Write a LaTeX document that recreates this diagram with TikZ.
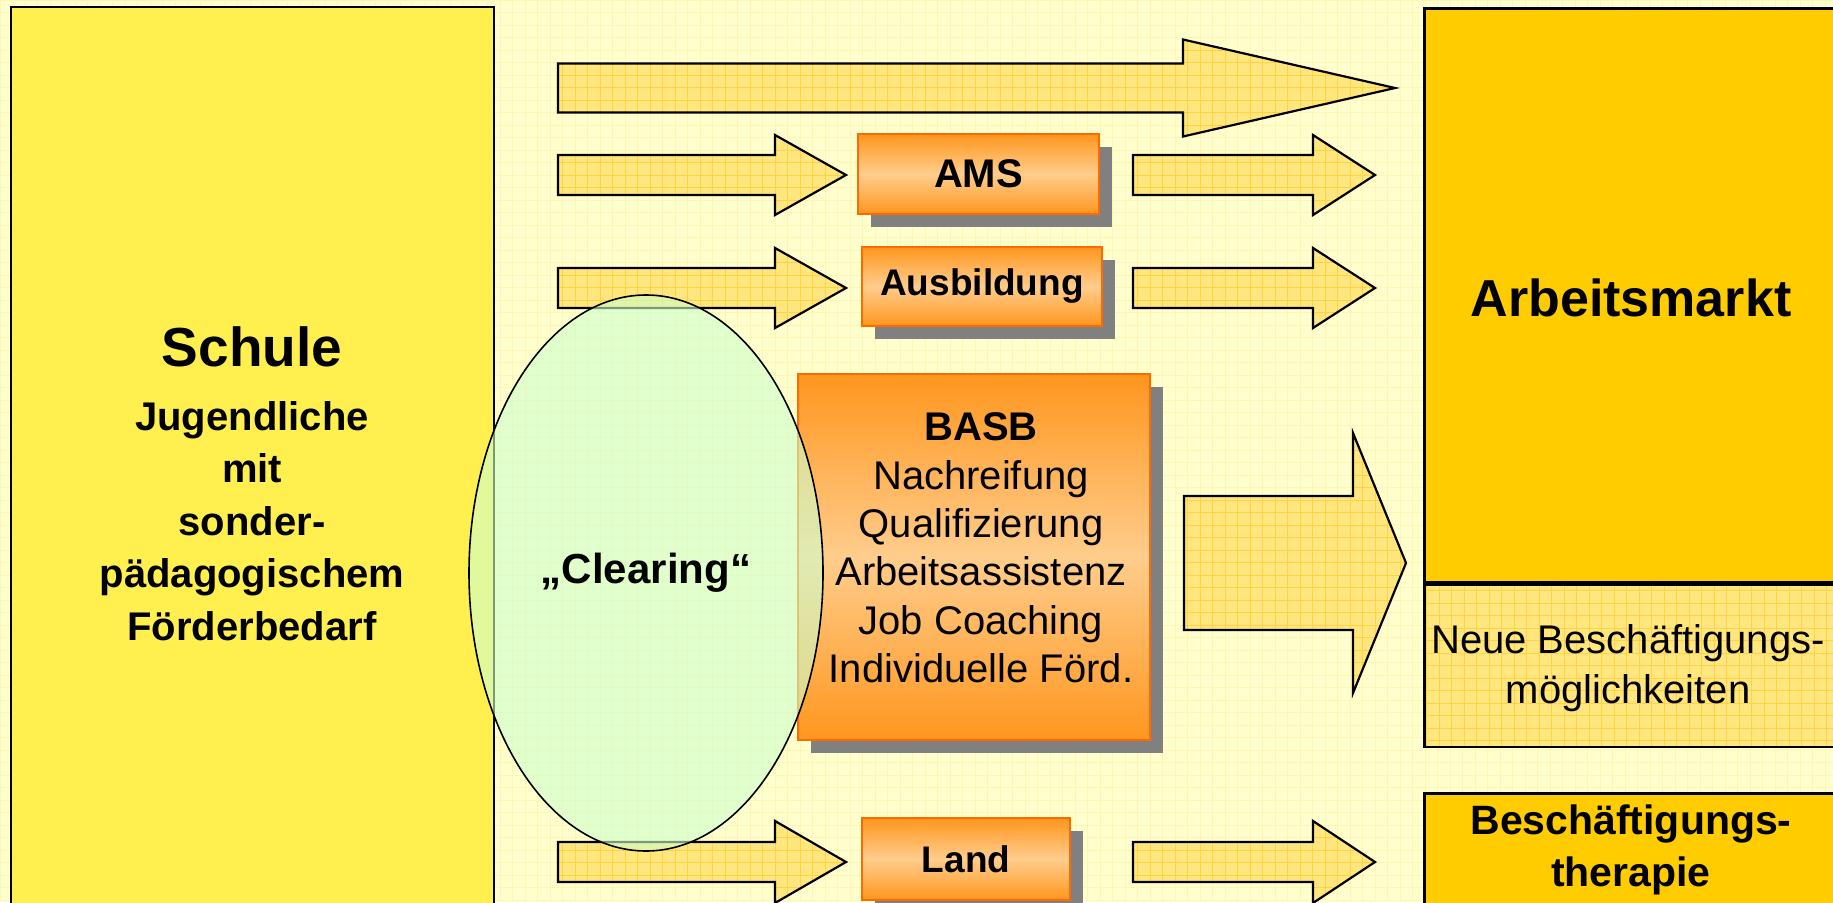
\documentclass[tikz,border=0pt]{standalone}
\usepackage{fontspec}
\setmainfont{Liberation Sans}
\usepackage{xcolor}
\usepackage{tikz}
\usetikzlibrary{shapes.geometric, positioning, shadows}
\definecolor{bgyellow}{HTML}{FFFFCE}
\definecolor{bglines}{HTML}{FFF5B4}
\definecolor{schulegelb}{HTML}{FFF04F}
\definecolor{marktgelb}{HTML}{FFCC00}
\definecolor{pfeilgelb}{HTML}{FFE67E}
\definecolor{pfeilgitter}{HTML}{FFD440}
\definecolor{boxorange}{HTML}{FF961E}
\definecolor{boxhell}{HTML}{FFCD8C}
\definecolor{boxrand}{HTML}{FF6A00}
\definecolor{schatten}{HTML}{808080}
\definecolor{clearinggruen}{HTML}{CCFFCC}
\tikzset{
    bggrid/.style={
        draw=bglines,
        line width=0.8pt,
        x=1pt, y=1pt,
        step=12.5
    },
    arrowgrid/.style={
        draw=pfeilgitter,
        line width=0.7pt,
        x=1pt, y=1pt,
        step=12.5
    },
    blockarrow/.style={
        fill=pfeilgelb,
        draw=black,
        line width=2.2pt,
        line join=miter,
        path picture={\draw[arrowgrid] (path picture bounding box.south west) grid (path picture bounding box.north east);}
    },
    bigbox/.style={
        rectangle,
        draw=black,
        line width=2.5pt,
        inner sep=0pt
    },
    stelle/.style={
        rectangle,
        draw=boxrand,
        line width=2pt,
        top color=boxorange,
        bottom color=boxorange,
        middle color=boxhell,
        drop shadow={shadow xshift=13pt, shadow yshift=-13pt, fill=schatten, opacity=1},
        align=center,
        font=\fontsize{40}{48}\selectfont\bfseries
    },
    titel/.style={
        font=\fontsize{55}{64}\selectfont\bfseries
    },
    fliesstext/.style={
        align=center,
        font=\fontsize{40}{52.5}\selectfont\bfseries
    },
    clearing/.style={
        ellipse,
        draw=black,
        line width=1.6pt,
        fill=clearinggruen,
        fill opacity=0.6,
        text opacity=1,
        minimum width=354,
        minimum height=556,
        font=\fontsize{42}{48}\selectfont\bfseries
    }
}
% block arrow: x0, x head, x tip, y centre, shaft half, head half
\newcommand{\blockarrow}[6]{%
    \filldraw[blockarrow] (#1,{#4-#5}) -- (#2,{#4-#5}) -- (#2,{#4-#6}) -- (#3,#4)
        -- (#2,{#4+#6}) -- (#2,{#4+#5}) -- (#1,{#4+#5}) -- cycle;}

\begin{document}
\begin{tikzpicture}[x=1pt, y=-1pt]

\useasboundingbox (0,0) rectangle (1833,902);
\clip (0,0) rectangle (1833,902);

% Background
\fill[bgyellow] (0,0) rectangle (1833,902);
\draw[bggrid] (0,-902) grid (1833,0);

% Schule
\node[bigbox, fill=schulegelb, minimum width=483, minimum height=940] (schule) at (252.5,477) {};
\node[titel] (schuletitel) at (252,347) {Schule};
\node[fliesstext, below=27pt of schuletitel] (schuletext) {Jugendliche\\mit\\sonder-\\pädagogischem\\Förderbedarf};

% Arbeitsmarkt
\node[bigbox, fill=marktgelb, minimum width=430, minimum height=574, anchor=north west] (markt) at (1423,7) {};
\node[bigbox, blockarrow, line width=2.5pt, minimum width=430, minimum height=162, anchor=north west] (neue) at (markt.south west) {};
\node[titel, font=\fontsize{52}{60}\selectfont\bfseries] (markttext) at (1631,298) {Arbeitsmarkt};
\node[align=center, font=\fontsize{40}{50}\selectfont] (neuetext) at (1628,668) {Neue Beschäftigungs-\\möglichkeiten};

% Beschaeftigungstherapie
\node[bigbox, fill=marktgelb, minimum width=430, minimum height=160, anchor=north west] (therapie) at (1423,792) {};
\node[fliesstext, font=\fontsize{41}{52}\selectfont\bfseries] (therapietext) at (1631,850) {Beschäftigungs-\\therapie};

% Arrows
\blockarrow{558}{1183}{1395}{88}{24.5}{48.5}
\blockarrow{558}{775}{846}{175}{20}{40}
\blockarrow{1133}{1313}{1375}{175}{20}{40}
\blockarrow{558}{775}{846}{288}{20}{40}
\blockarrow{1133}{1313}{1375}{288}{20}{40}
\blockarrow{558}{775}{846}{862}{20}{41}
\blockarrow{1133}{1313}{1375}{862}{20}{41}
\blockarrow{1184}{1353}{1406}{563}{67}{130}

% Stellen
\node[stelle, minimum width=241, minimum height=80] (ams) at (978.5,174) {AMS};
\node[stelle, minimum width=240, minimum height=79, font=\fontsize{37}{44}\selectfont\bfseries] (ausbildung) at (982,286.5) {Ausbildung};
\node[stelle, minimum width=352, minimum height=366, font=\fontsize{40}{48.4}\selectfont] (basb) at (974,557) {};
\node[align=center, font=\fontsize{40}{48.4}\selectfont] (basbtext) at ([xshift=7pt, yshift=9pt]basb.center) {\textbf{BASB}\\Nachreifung\\Qualifizierung\\Arbeitsassistenz\\Job Coaching\\Individuelle Förd.};
\node[stelle, minimum width=208, minimum height=82, font=\fontsize{37}{44}\selectfont\bfseries] (land) at (966,859) {Land};

% Clearing
\node[clearing] (clear) at (646,573) {„Clearing“};

\end{tikzpicture}
\end{document}
